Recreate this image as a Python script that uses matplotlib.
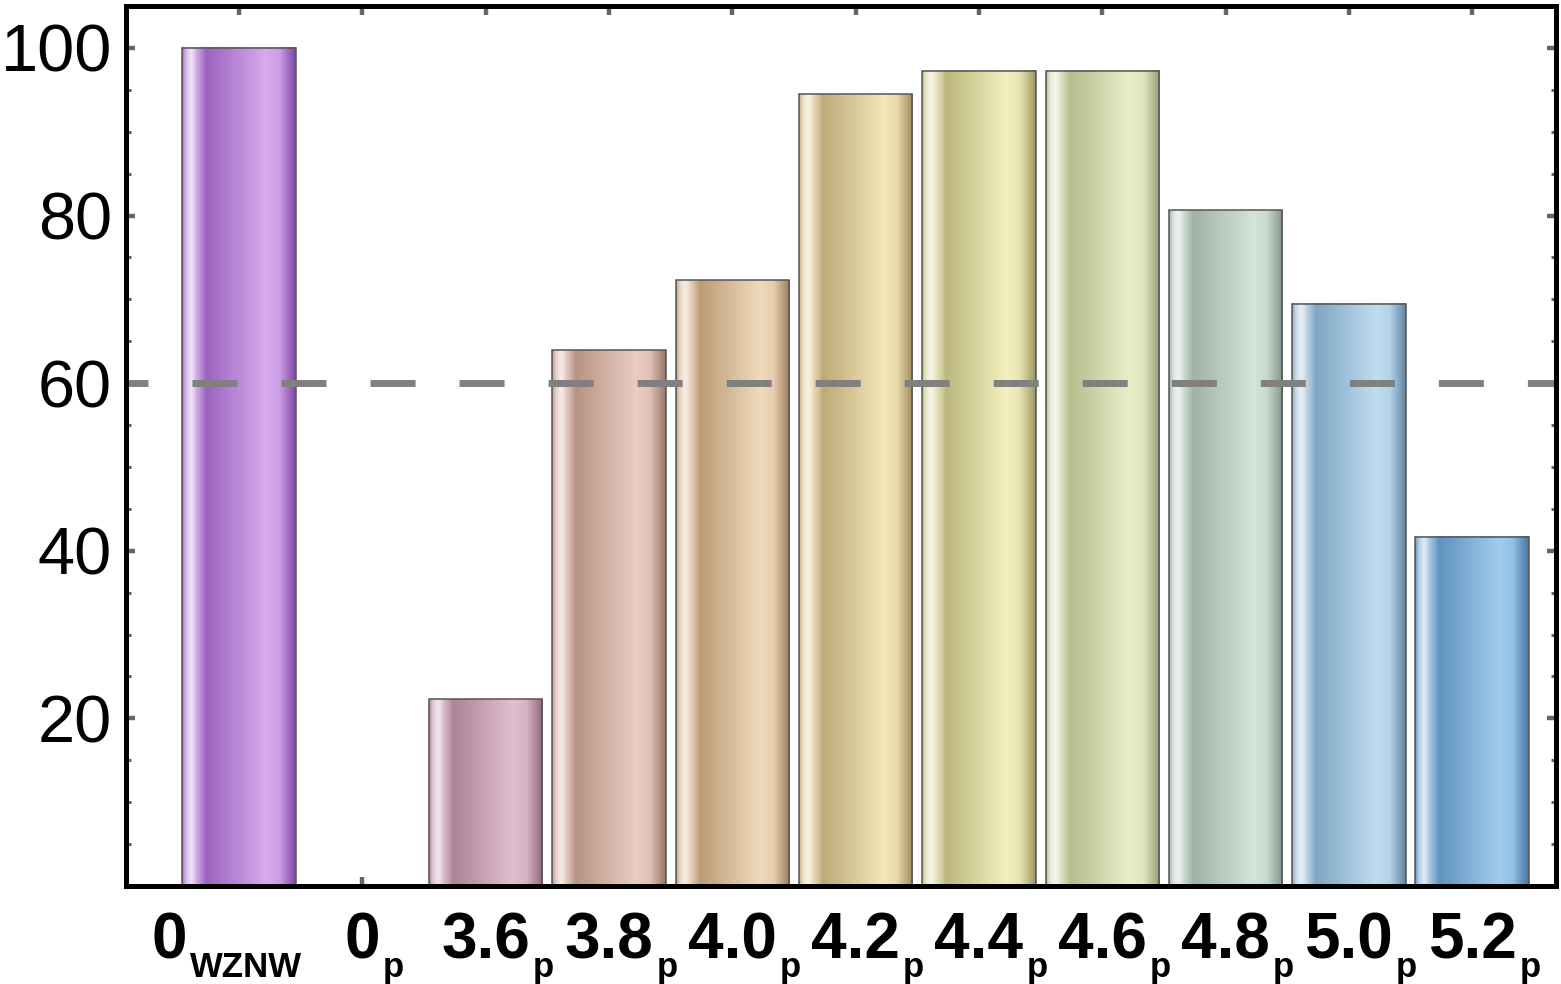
import numpy as np
import matplotlib
matplotlib.use("Agg")
import matplotlib.pyplot as plt
from matplotlib.colors import to_rgb
from matplotlib.ticker import MultipleLocator, FixedLocator
from matplotlib.transforms import blended_transform_factory

plt.rcParams['font.family'] = ['Liberation Sans', 'DejaVu Sans']
plt.rcParams['lines.scale_dashes'] = False

# data
labels_main = ['0', '0', '3.6', '3.8', '4.0', '4.2', '4.4', '4.6', '4.8', '5.0', '5.2']
labels_sub = ['WZNW', 'p', 'p', 'p', 'p', 'p', 'p', 'p', 'p', 'p', 'p']
values = [100.0, 0.0, 22.3, 63.9, 72.3, 94.5, 97.3, 97.3, 80.6, 69.5, 41.7]
threshold = 60

# (dark, light) colour of each bar
dark_colors = ['#9c63c0', '#9c63c0', '#ae8395', '#b89383', '#bc9c78', '#bdaa78',
               '#bdb77f', '#b5be8d', '#9fb3a5', '#7fa6c3', '#5f93c0']
light_colors = ['#d7aaee', '#d7aaee', '#e0bfd0', '#eacdc2', '#f0dabb', '#f3e6b8',
                '#f2f0be', '#e8f0ca', '#d3e4d8', '#c0ddf0', '#a2ccec']

# glass-like shading across the bar width
stops_t = [0.0, 0.03, 0.08, 0.13, 0.21, 0.50, 0.74, 0.86, 0.96, 1.0]
stops_light = [0.35, 0.7, 1.0, 0.6, 0.0, 0.55, 1.0, 0.8, 0.0, 0.0]
stops_white = [0.0, 0.3, 0.75, 0.25, 0.0, 0.0, 0.0, 0.0, 0.0, 0.0]
stops_shade = [0.9, 1.0, 1.0, 1.0, 1.0, 1.0, 1.0, 1.0, 0.95, 0.8]


def bar_gradient(dark, light, n=240):
    t = np.linspace(0, 1, n)
    wl = np.interp(t, stops_t, stops_light)
    ww = np.interp(t, stops_t, stops_white)
    sh = np.interp(t, stops_t, stops_shade)
    d = np.array(to_rgb(dark))
    l = np.array(to_rgb(light))
    base = d[None, :] * (1 - wl[:, None]) + l[None, :] * wl[:, None]
    col = base * (1 - ww[:, None]) + ww[:, None] * np.array([0.97, 0.96, 0.97])
    col = col * sh[:, None]
    return np.clip(col, 0, 1)[None, :, :]


fig = plt.figure(figsize=(15.61, 9.84), dpi=100)
ax = fig.add_axes([126 / 1561, 98 / 984, 1430 / 1561, 880 / 984])

x = np.arange(len(values))
width = 0.92
for xi, v, dc, lc in zip(x, values, dark_colors, light_colors):
    if v <= 0:
        continue
    ax.imshow(bar_gradient(dc, lc), extent=(xi - width / 2, xi + width / 2, 0, v),
              aspect='auto', interpolation='bilinear', zorder=2)
heights = [v if v > 0 else np.nan for v in values]
ax.bar(x, heights, width=width, facecolor='none', edgecolor='#555555',
       linewidth=1.1, zorder=3)

ax.axhline(threshold, color='#808080', linewidth=5, linestyle=(16.6, (32.4, 31.7)),
           zorder=4)

ax.set_xlim(-0.917, 10.68)
ax.set_ylim(0, 105)

for s in ax.spines.values():
    s.set_linewidth(3.6)
    s.set_color('black')
    s.set_zorder(5)

ax.yaxis.set_major_locator(FixedLocator([20, 40, 60, 80, 100]))
ax.yaxis.set_minor_locator(MultipleLocator(5))
ax.xaxis.set_major_locator(FixedLocator(x))
ax.tick_params(which='major', direction='in', length=6.5, width=3.2, color='#666666',
               top=True, right=True, labelsize=48, pad=10)
ax.tick_params(which='minor', direction='in', length=3.5, width=2.2, color='#666666',
               left=True, right=True)
ax.tick_params(axis='x', labelbottom=False)
ax.set_yticklabels(['20', '40', '60', '80', '100'])

# x labels: bold main text with a smaller bold subscript
fig.canvas.draw()
renderer = fig.canvas.get_renderer()
trans = blended_transform_factory(ax.transData, fig.transFigure)
fw = fig.bbox.width
for xi, m, sb in zip(x, labels_main, labels_sub):
    tm = fig.text(0, 0.0264, m, fontsize=46, fontweight='bold', va='baseline', ha='left')
    ts = fig.text(0, 0.0071, sb, fontsize=25, fontweight='bold', va='baseline', ha='left')
    wm = tm.get_window_extent(renderer).width
    ws = ts.get_window_extent(renderer).width
    cx = trans.transform((xi, 0))[0]
    gap = 3
    if len(sb) > 1:
        left = cx - (wm + gap + ws) / 2 - 12
    else:
        left = cx - wm / 2
    tm.set_x(left / fw)
    ts.set_x((left + wm + gap) / fw)

fig.savefig('out.png', dpi=100)
